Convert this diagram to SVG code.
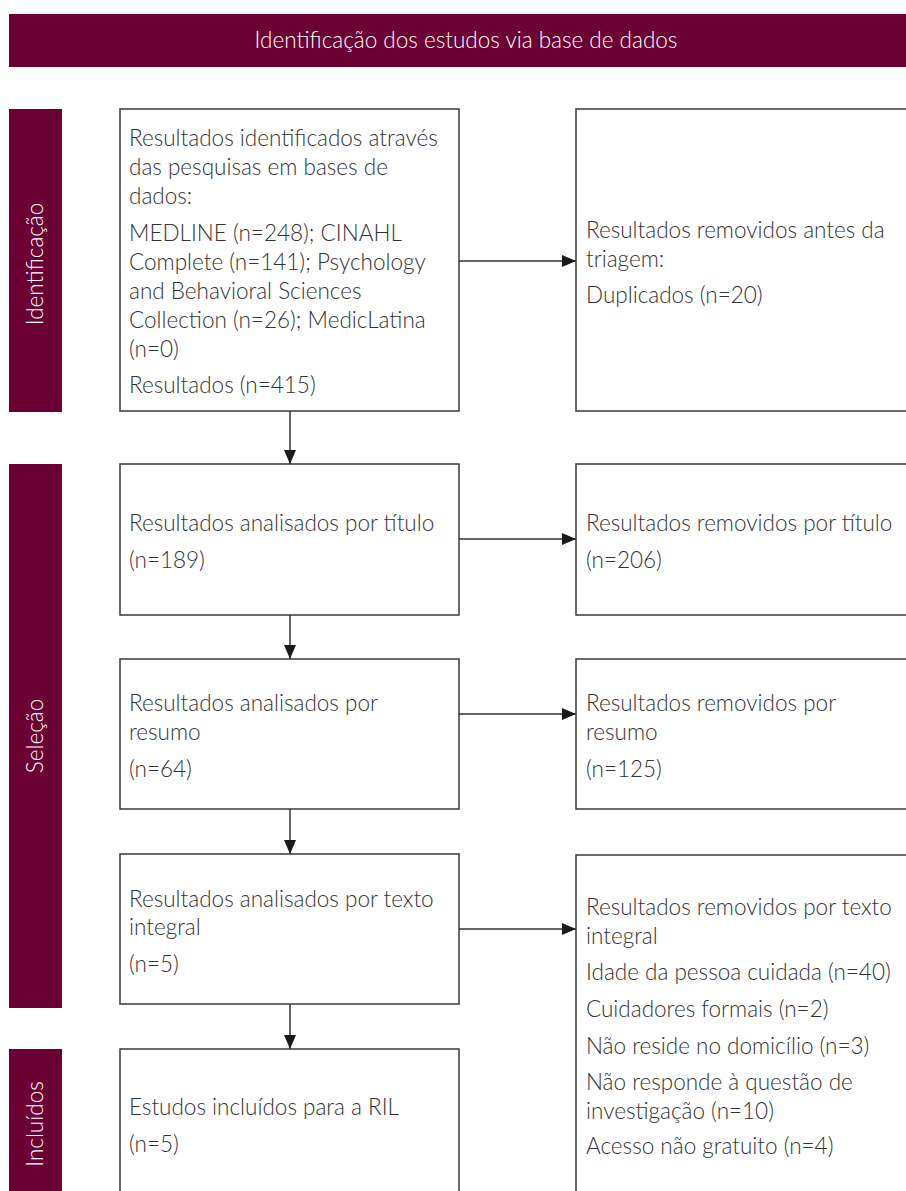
<svg xmlns="http://www.w3.org/2000/svg" width="906" height="1191" viewBox="0 0 906 1191">
<style>
.bar{fill:#6b0033}
.box{fill:#fff;stroke:#3a3a3a;stroke-width:1.5}
.t{font-family:Lato,"Open Sans","Liberation Sans",sans-serif;font-weight:300;font-size:22.5px;fill:#333}
.w{font-family:Lato,"Open Sans","Liberation Sans",sans-serif;font-weight:300;font-size:22.5px;fill:#fff}
.c{stroke:#333;stroke-width:1.5;fill:none}
</style>
<defs>
<marker id="ah" viewBox="0 0 14 12" refX="14" refY="6" markerWidth="14" markerHeight="12" markerUnits="userSpaceOnUse" orient="auto">
<path d="M0,0 L14,6 L0,12 Z" fill="#1a1a1a"/>
</marker>
</defs>
<rect width="906" height="1191" fill="#fff"/>
<g id="header">
<rect class="bar" x="9" y="14" width="897" height="53"/>
<text class="w" x="466" y="48" text-anchor="middle">Identificação dos estudos via base de dados</text>
</g>
<g id="lane-identificacao">
<rect class="bar" x="9" y="109" width="53" height="303"/>
<text class="w" transform="translate(43,264) rotate(-90)" text-anchor="middle">Identificação</text>
</g>
<g id="lane-selecao">
<rect class="bar" x="9" y="464" width="53" height="544"/>
<text class="w" transform="translate(43,736) rotate(-90)" text-anchor="middle">Seleção</text>
</g>
<g id="lane-incluidos">
<rect class="bar" x="9" y="1049" width="53" height="150"/>
<text class="w" transform="translate(43,1124) rotate(-90)" text-anchor="middle">Incluídos</text>
</g>
<g id="connectors">
<line class="c" x1="290" y1="411" x2="290" y2="464" marker-end="url(#ah)"/>
<line class="c" x1="290" y1="615" x2="290" y2="659" marker-end="url(#ah)"/>
<line class="c" x1="290" y1="809" x2="290" y2="854" marker-end="url(#ah)"/>
<line class="c" x1="290" y1="1004" x2="290" y2="1049" marker-end="url(#ah)"/>
<line class="c" x1="459" y1="261" x2="576" y2="261" marker-end="url(#ah)"/>
<line class="c" x1="459" y1="539" x2="576" y2="539" marker-end="url(#ah)"/>
<line class="c" x1="459" y1="714" x2="576" y2="714" marker-end="url(#ah)"/>
<line class="c" x1="459" y1="929" x2="576" y2="929" marker-end="url(#ah)"/>
</g>
<g id="n1">
<rect class="box" x="120" y="109" width="339" height="302"/>
<text class="t" x="129" y="146">Resultados identificados através</text>
<text class="t" x="129" y="175">das pesquisas em bases de</text>
<text class="t" x="129" y="204">dados:</text>
<text class="t" x="129" y="241">MEDLINE (n=248); CINAHL</text>
<text class="t" x="129" y="270">Complete (n=141); Psychology</text>
<text class="t" x="129" y="299">and Behavioral Sciences</text>
<text class="t" x="129" y="328">Collection (n=26); MedicLatina</text>
<text class="t" x="129" y="357">(n=0)</text>
<text class="t" x="129" y="393">Resultados (n=415)</text>
</g>
<g id="r1">
<rect class="box" x="576" y="109" width="340" height="302"/>
<text class="t" x="586" y="238">Resultados removidos antes da</text>
<text class="t" x="586" y="267">triagem:</text>
<text class="t" x="586" y="303">Duplicados (n=20)</text>
</g>
<g id="n2">
<rect class="box" x="120" y="464" width="339" height="151"/>
<text class="t" x="129" y="531">Resultados analisados por título</text>
<text class="t" x="129" y="568">(n=189)</text>
</g>
<g id="r2">
<rect class="box" x="576" y="464" width="340" height="151"/>
<text class="t" x="586" y="531">Resultados removidos por título</text>
<text class="t" x="586" y="568">(n=206)</text>
</g>
<g id="n3">
<rect class="box" x="120" y="659" width="339" height="150"/>
<text class="t" x="129" y="711">Resultados analisados por</text>
<text class="t" x="129" y="740">resumo</text>
<text class="t" x="129" y="777">(n=64)</text>
</g>
<g id="r3">
<rect class="box" x="576" y="659" width="340" height="150"/>
<text class="t" x="586" y="711">Resultados removidos por</text>
<text class="t" x="586" y="740">resumo</text>
<text class="t" x="586" y="777">(n=125)</text>
</g>
<g id="n4">
<rect class="box" x="120" y="854" width="339" height="150"/>
<text class="t" x="129" y="907">Resultados analisados por texto</text>
<text class="t" x="129" y="935">integral</text>
<text class="t" x="129" y="972">(n=5)</text>
</g>
<g id="r4">
<rect class="box" x="576" y="855" width="340" height="350"/>
<text class="t" x="586" y="915">Resultados removidos por texto</text>
<text class="t" x="586" y="944">integral</text>
<text class="t" x="586" y="980">Idade da pessoa cuidada (n=40)</text>
<text class="t" x="586" y="1017">Cuidadores formais (n=2)</text>
<text class="t" x="586" y="1054">Não reside no domicílio (n=3)</text>
<text class="t" x="586" y="1090">Não responde à questão de</text>
<text class="t" x="586" y="1119">investigação (n=10)</text>
<text class="t" x="586" y="1154">Acesso não gratuito (n=4)</text>
</g>
<g id="n5">
<rect class="box" x="120" y="1049" width="339" height="160"/>
<text class="t" x="129" y="1115">Estudos incluídos para a RIL</text>
<text class="t" x="129" y="1152">(n=5)</text>
</g>
</svg>
